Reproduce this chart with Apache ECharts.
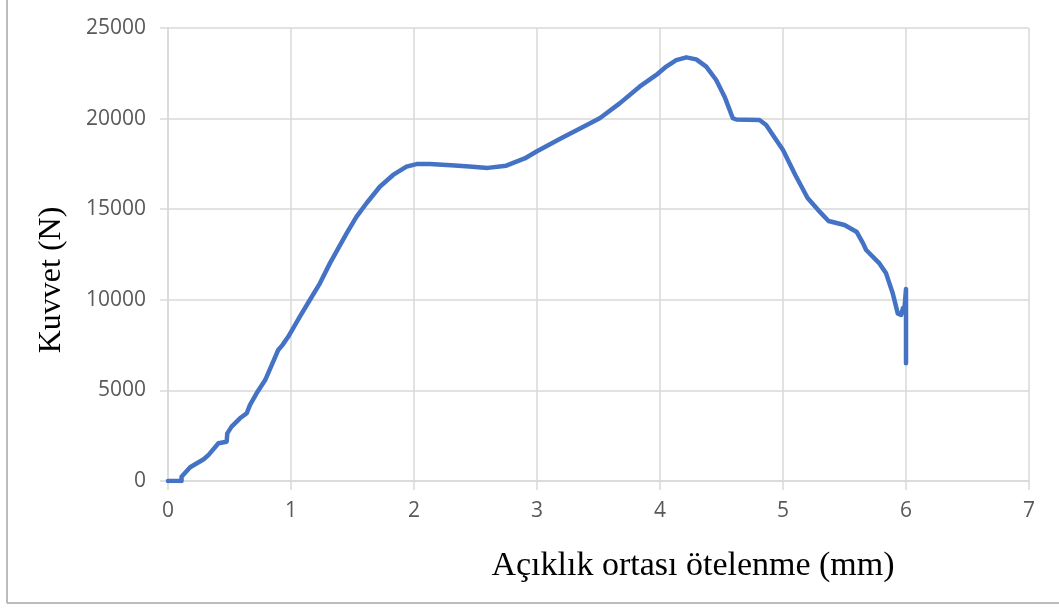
<!DOCTYPE html>
<html>
<head>
<meta charset="utf-8">
<script src="https://cdn.jsdelivr.net/npm/echarts@6/dist/echarts.min.js"></script>
<style>
  html, body { margin: 0; padding: 0; background: #ffffff; }
  #chart { width: 1059px; height: 608px; }
</style>
</head>
<body>
<div id="chart"></div>
<script>
// Load–deflection curve: mid-span displacement (mm) vs. force (N)
const deflection = [
  0, 0.11, 0.11, 0.18, 0.29, 0.33, 0.41, 0.477, 0.482, 0.517, 0.585, 0.64, 0.666, 0.72, 0.79,
  0.85, 0.896, 0.93, 0.977, 1.072, 1.153, 1.235, 1.316, 1.452, 1.533, 1.614, 1.722, 1.83,
  1.939, 2.02, 2.13, 2.3, 2.45, 2.6, 2.75, 2.9, 3.0, 3.2, 3.35, 3.51, 3.672, 3.834, 3.97,
  4.051, 4.132, 4.214, 4.295, 4.376, 4.457, 4.525, 4.592, 4.62, 4.809, 4.863, 4.945, 5.0,
  5.1, 5.2, 5.3, 5.37, 5.5, 5.6, 5.65, 5.676, 5.784, 5.838, 5.892, 5.933, 5.96, 5.975,
  5.985, 6.0, 6.0, 6.0, 6.0
];
const force = [
  0, 0, 240, 760, 1200, 1440, 2080, 2170, 2630, 3000, 3460, 3740, 4190, 4840, 5570,
  6500, 7230, 7500, 7960, 9070, 9990, 10910, 12010, 13670, 14590, 15330, 16240, 16890,
  17350, 17490, 17490, 17420, 17350, 17280, 17400, 17800, 18200, 18930, 19450, 20020, 20840, 21760, 22410,
  22870, 23230, 23380, 23270, 22870, 22130, 21210, 20020, 19950, 19920, 19650, 18820, 18270,
  16890, 15620, 14850, 14350, 14130, 13740, 13130, 12750, 12010, 11460, 10360, 9250, 9160, 9550,
  9300, 10600, 8800, 9800, 6500
];

const xTitle = 'Açıklık ortası ötelenme (mm)';
const yTitle = 'Kuvvet (N)';

const points = deflection.map((d, i) => [d, force[i]]);

const gridColor = '#d9d9d9';
const tickFont = { fontFamily: 'Open Sans', fontSize: 21, color: '#595959' };
const titleFont = 'Liberation Serif';

const chart = echarts.init(document.getElementById('chart'), null, { renderer: 'canvas' });
chart.setOption({
  animation: false,
  backgroundColor: '#ffffff',
  grid: { left: 168, right: 30, top: 28, bottom: 127, containLabel: false },
  xAxis: {
    type: 'value', min: 0, max: 7, interval: 1,
    axisLine: { show: true, lineStyle: { color: gridColor, width: 1.5 } },
    axisTick: { show: true, length: 9, lineStyle: { color: gridColor, width: 1.5 } },
    axisLabel: Object.assign({ margin: 20 }, tickFont),
    splitLine: { show: true, lineStyle: { color: gridColor, width: 1.5 } }
  },
  yAxis: {
    type: 'value', min: 0, max: 25000, interval: 5000,
    axisLine: { show: true, lineStyle: { color: gridColor, width: 1.5 } },
    axisTick: { show: true, length: 8, lineStyle: { color: gridColor, width: 1.5 } },
    axisLabel: Object.assign({ margin: 22, formatter: v => String(v) }, tickFont),
    splitLine: { show: true, lineStyle: { color: gridColor, width: 1.5 } }
  },
  series: [{
    type: 'line',
    data: points,
    showSymbol: false,
    smooth: false,
    lineStyle: { color: '#4472C4', width: 4.5, join: 'round', cap: 'round' },
    itemStyle: { color: '#4472C4' }
  }],
  graphic: [
    // chart frame (left and bottom edges)
    { type: 'line', shape: { x1: 7, y1: 0, x2: 7, y2: 603 }, style: { stroke: '#a6a6a6', lineWidth: 1.5 } },
    { type: 'line', shape: { x1: 7, y1: 603, x2: 1059, y2: 603 }, style: { stroke: '#a6a6a6', lineWidth: 1.5 } },
    // axis titles
    {
      type: 'text', x: 693, y: 549,
      style: { text: xTitle, fontFamily: titleFont, fontSize: 34, fill: '#000000', align: 'center', verticalAlign: 'top' }
    },
    {
      type: 'text', x: 36, y: 280, rotation: Math.PI / 2,
      style: { text: yTitle, fontFamily: titleFont, fontSize: 32, fill: '#000000', align: 'center', verticalAlign: 'top' }
    }
  ]
});
</script>
</body>
</html>
